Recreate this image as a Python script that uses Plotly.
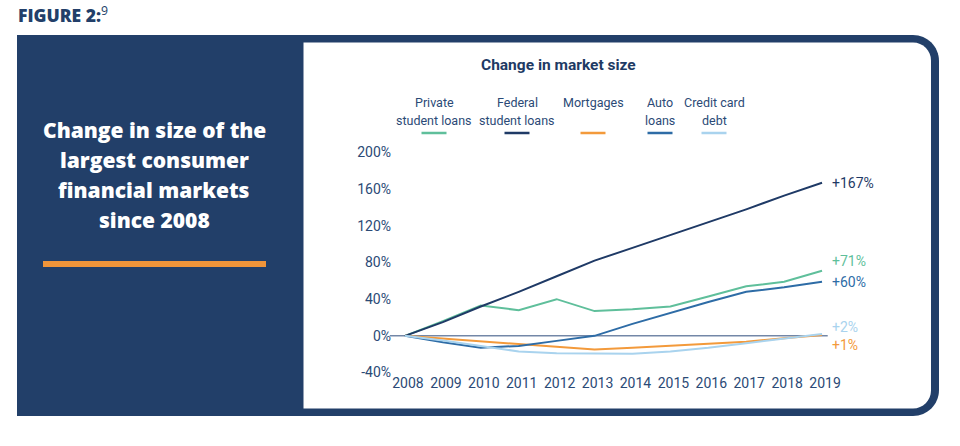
import plotly.graph_objects as go

# ---------------- data ----------------
years = list(range(2008, 2020))
year_labels = [str(y) for y in years]
series_names = ["Private student loans", "Federal student loans", "Mortgages", "Auto loans", "Credit card debt"]
private_student = [0, 16, 33, 28, 40, 27, 29, 32, 43, 54, 59, 71]
federal_student = [0, 15, 32, 48, 65, 82, 96, 110, 124, 138, 153, 167]
mortgages = [0, -3, -5.5, -9, -12, -15, -13, -11, -9, -6.5, -2.5, 1]
auto_loans = [0, -7, -13, -11, -5.5, 0, 13, 25, 37, 48, 53, 59]
credit_card = [0, -5, -11, -17, -19, -19.5, -19.5, -17, -13, -8, -3, 2]
end_labels = ["+71%", "+167%", "+1%", "+60%", "+2%"]
legend_lines = [["Private", "student loans"], ["Federal", "student loans"], ["Mortgages"],
                ["Auto", "loans"], ["Credit card", "debt"]]
y_ticks = [-40, 0, 40, 80, 120, 160, 200]
y_tick_labels = [f"{v}%" for v in y_ticks]

W, H = 960, 446
NAVY = "#223f69"
TXT = "#2b4a76"
colors = ["#5fbf9b", "#1f3a66", "#f39a3b", "#2e6ca6", "#a9d3ee"]
values = [private_student, federal_student, mortgages, auto_loans, credit_card]


def px(x):
    return x / W


def py(y):
    return 1 - y / H


def rounded_right(x0, y0, x1, y1, r):
    k = 0.5523 * r
    pts = [
        f"M {px(x0)},{py(y0)}",
        f"L {px(x1 - r)},{py(y0)}",
        f"C {px(x1 - r + k)},{py(y0)} {px(x1)},{py(y0 + r - k)} {px(x1)},{py(y0 + r)}",
        f"L {px(x1)},{py(y1 - r)}",
        f"C {px(x1)},{py(y1 - r + k)} {px(x1 - r + k)},{py(y1)} {px(x1 - r)},{py(y1)}",
        f"L {px(x0)},{py(y1)}",
        "Z",
    ]
    return " ".join(pts)


fig = go.Figure()

for name, vals, col in zip(series_names, values, colors):
    fig.add_trace(go.Scatter(x=years, y=vals, mode="lines", name=name,
                             line=dict(color=col, width=2), hoverinfo="skip"))

shapes = [
    dict(type="path", xref="paper", yref="paper", layer="below",
         path=rounded_right(17, 35, 939, 416, 26), fillcolor=NAVY, line=dict(width=0)),
    dict(type="path", xref="paper", yref="paper", layer="below",
         path=rounded_right(303.5, 42.5, 931, 408.5, 18), fillcolor="white", line=dict(width=0)),
    dict(type="rect", xref="paper", yref="paper", layer="below",
         x0=px(43), x1=px(266), y0=py(267), y1=py(261), fillcolor="#f0953a", line=dict(width=0)),
    dict(type="line", xref="x", yref="y", layer="below",
         x0=2007.6, x1=2019.15, y0=0, y1=0, line=dict(color="#2f4d7c", width=1)),
]

annotations = []
# figure label
annotations.append(dict(text="FIGURE 2:<sup><span style='font-weight:400'>9</span></sup>",
                        x=px(16), y=py(15), xref="paper", yref="paper",
                        xanchor="left", yanchor="middle", showarrow=False,
                        font=dict(family="Open Sans", size=17.5, color=NAVY, weight=800)))
# left panel heading
left_lines = ["Change in size of the", "largest consumer", "financial markets", "since 2008"]
for i, t in enumerate(left_lines):
    annotations.append(dict(text=t, x=px(154), y=py(130 + i * 30), xref="paper", yref="paper",
                            xanchor="center", yanchor="middle", showarrow=False,
                            font=dict(family="Open Sans", size=21, color="white", weight=800)))
# chart title
annotations.append(dict(text="Change in market size", x=px(558), y=py(65), xref="paper", yref="paper",
                        xanchor="center", yanchor="middle", showarrow=False,
                        font=dict(family="Roboto", size=15.5, color="#1e3a64", weight="bold")))
# custom legend
legend_cx = [434, 517, 593, 660, 714]
for lines, cx, col in zip(legend_lines, legend_cx, colors):
    for j, t in enumerate(lines):
        annotations.append(dict(text=t, x=px(cx), y=py(102 + 18 * j), xref="paper", yref="paper",
                                xanchor="center", yanchor="middle", showarrow=False,
                                font=dict(family="Roboto", size=12.5, color=TXT)))
    shapes.append(dict(type="line", xref="paper", yref="paper", x0=px(cx - 12.5), x1=px(cx + 12.5),
                       y0=py(133), y1=py(133), line=dict(color=col, width=2.5)))
# end labels
yshifts = [10, 0, -10, 0, 7]
for lab, vals, col, ys in zip(end_labels, values, colors, yshifts):
    annotations.append(dict(text=lab, x=years[-1], y=vals[-1], xref="x", yref="y",
                            xanchor="left", yanchor="middle", xshift=8, yshift=ys, showarrow=False,
                            font=dict(family="Roboto", size=14, color=col)))

fig.update_layout(
    width=W, height=H,
    margin=dict(l=0, r=0, t=0, b=0, autoexpand=False),
    paper_bgcolor="white",
    plot_bgcolor="rgba(0,0,0,0)",
    showlegend=False,
    shapes=shapes,
    annotations=annotations,
    xaxis=dict(domain=[px(386), px(841)], range=[2007.5, 2019.5], tickvals=years, ticktext=year_labels,
               showgrid=False, zeroline=False, showline=False, ticks="", automargin=False,
               tickfont=dict(family="Roboto", size=14, color=TXT), ticklabelshift=3),
    yaxis=dict(domain=[py(372.5), py(152.5)], range=[-40, 200], tickvals=y_ticks, ticktext=y_tick_labels,
               anchor="free", position=px(391), automargin=False,
               showgrid=False, zeroline=False, showline=False, ticks="",
               tickfont=dict(family="Roboto", size=14, color=TXT)),
)

fig.write_html("out.html", config={"displayModeBar": False},
               post_script="document.body.style.margin='0px';")
